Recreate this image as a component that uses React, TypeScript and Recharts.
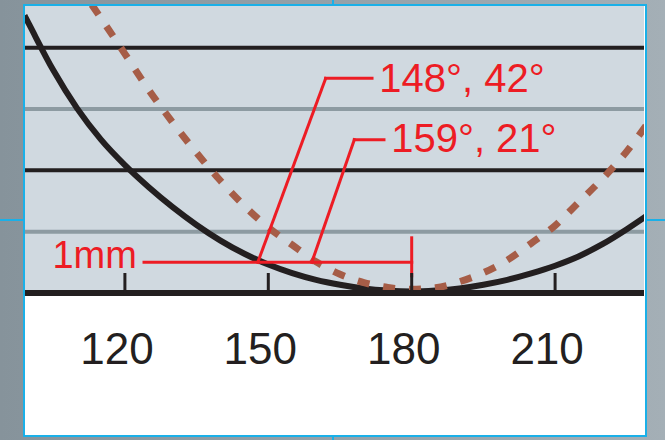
import { LineChart, Line, XAxis, YAxis, CartesianGrid, ReferenceLine, ReferenceDot } from "recharts";

// angle in degrees on x, height in mm on y
const angles = [99, 100, 105, 110, 115, 120, 125, 130, 135, 140, 145, 150, 155, 160, 165, 170, 175, 180, 185, 190, 195, 200, 205, 210, 215, 220, 225, 229];
const solidCurve = [9.05, 8.75, 7.27, 6.02, 5.0, 4.17, 3.45, 2.8, 2.22, 1.71, 1.28, 0.93, 0.65, 0.43, 0.27, 0.15, 0.08, 0.05, 0.08, 0.15, 0.27, 0.43, 0.64, 0.89, 1.2, 1.6, 2.08, 2.5];
const dashedCurve = [null, null, null, 10.1, 8.96, 7.8, 6.62, 5.56, 4.57, 3.66, 2.84, 2.14, 1.57, 1.02, 0.61, 0.34, 0.18, 0.12, 0.17, 0.37, 0.66, 1.07, 1.62, 2.2, 2.97, 3.74, 4.62, 5.45];
const xTicks = [120, 150, 180, 210];
const darkLevels = [4, 8];
const greyLevels = [2, 6];

const data = angles.map((a, i) => ({ angle: a, solid: solidCurve[i], dashed: dashedCurve[i] }));

const RED = "#ed1c24";
const DARK = "#231f20";
const FONT = '"Liberation Sans", Arial, Helvetica, sans-serif';

const AxisTick = (props: any) => {
  const { x, y, payload } = props;
  return (
    <g>
      <line x1={x} x2={x} y1={y} y2={y - 20} stroke={DARK} strokeWidth={3} />
      <text x={x - 8} y={y + 71} textAnchor="middle" fontSize={44} fill={DARK} fontFamily={FONT}>
        {payload.value}
      </text>
    </g>
  );
};

const note = (text: string, size: number, anchor: "start" | "end" = "start") => (p: any) => (
  <text x={p.cx} y={p.cy} textAnchor={anchor} fontSize={size} fill={RED} fontFamily={FONT}>
    {text}
  </text>
);

const seg = (x1: number, y1: number, x2: number, y2: number, key: string) => (
  <ReferenceLine
    key={key}
    segment={[{ x: x1, y: y1 }, { x: x2, y: y2 }]}
    stroke={RED}
    strokeWidth={3}
    strokeLinecap="square"
  />
);

const crop = (style: any) => <div style={{ position: "absolute", background: "#1ab0e8", ...style }} />;

export default function App() {
  return (
    <div
      style={{
        position: "absolute",
        left: 0,
        top: 0,
        width: 665,
        height: 440,
        overflow: "hidden",
        background: "linear-gradient(to right, #86939b, #a4afb6)",
      }}
    >
      {crop({ left: 0, top: 219, width: 23, height: 2 })}
      {crop({ left: 647, top: 219, width: 18, height: 2 })}
      {crop({ left: 332, top: 0, width: 2, height: 5 })}
      {crop({ left: 332, top: 436, width: 2, height: 4 })}
      <div
        style={{
          position: "absolute",
          left: 23,
          top: 4,
          width: 624,
          height: 433,
          boxSizing: "border-box",
          border: "2px solid #1ab0e8",
          background: "#ffffff",
        }}
      />
      <div style={{ position: "absolute", left: 0, top: 0 }}>
        <LineChart width={665} height={440} data={data} margin={{ top: 6, right: 21, bottom: 87, left: 25 }}>
          <CartesianGrid horizontal={false} vertical={false} fill="#d0d9e0" fillOpacity={1} stroke="none" />
          <XAxis
            dataKey="angle"
            type="number"
            domain={[99.1, 228.6]}
            allowDataOverflow
            ticks={xTicks}
            height={60}
            tickSize={0}
            tickMargin={0}
            tickLine={false}
            axisLine={{ stroke: DARK, strokeWidth: 6 }}
            tick={<AxisTick />}
          />
          <YAxis hide type="number" domain={[0, 9.36]} allowDataOverflow />
          {greyLevels.map((v) => (
            <ReferenceLine key={"g" + v} y={v} stroke="#8d9ba2" strokeWidth={4} />
          ))}
          {darkLevels.map((v) => (
            <ReferenceLine key={"d" + v} y={v} stroke={DARK} strokeWidth={4} />
          ))}
          <Line
            type="monotone"
            dataKey="solid"
            stroke={DARK}
            strokeWidth={6}
            dot={false}
            isAnimationActive={false}
          />
          <Line
            type="monotone"
            dataKey="dashed"
            stroke="#a65d47"
            strokeWidth={7}
            strokeDasharray="12 14"
            dot={false}
            isAnimationActive={false}
          />
          {seg(124, 1, 180, 1, "h")}
          {seg(180, 1.8, 180, 0.56, "v")}
          {seg(147.8, 1, 162, 7, "d1")}
          {seg(162, 7, 171.7, 7, "h1")}
          {seg(159.1, 1, 168, 5, "d2")}
          {seg(168, 5, 174.2, 5, "h2")}
          <ReferenceDot x={173.2} y={6.54} r={0} shape={note("148°, 42°", 40)} />
          <ReferenceDot x={175.7} y={4.61} r={0} shape={note("159°, 21°", 40)} />
          <ReferenceDot x={122.5} y={0.82} r={0} shape={note("1mm", 38, "end")} />
        </LineChart>
      </div>
    </div>
  );
}
